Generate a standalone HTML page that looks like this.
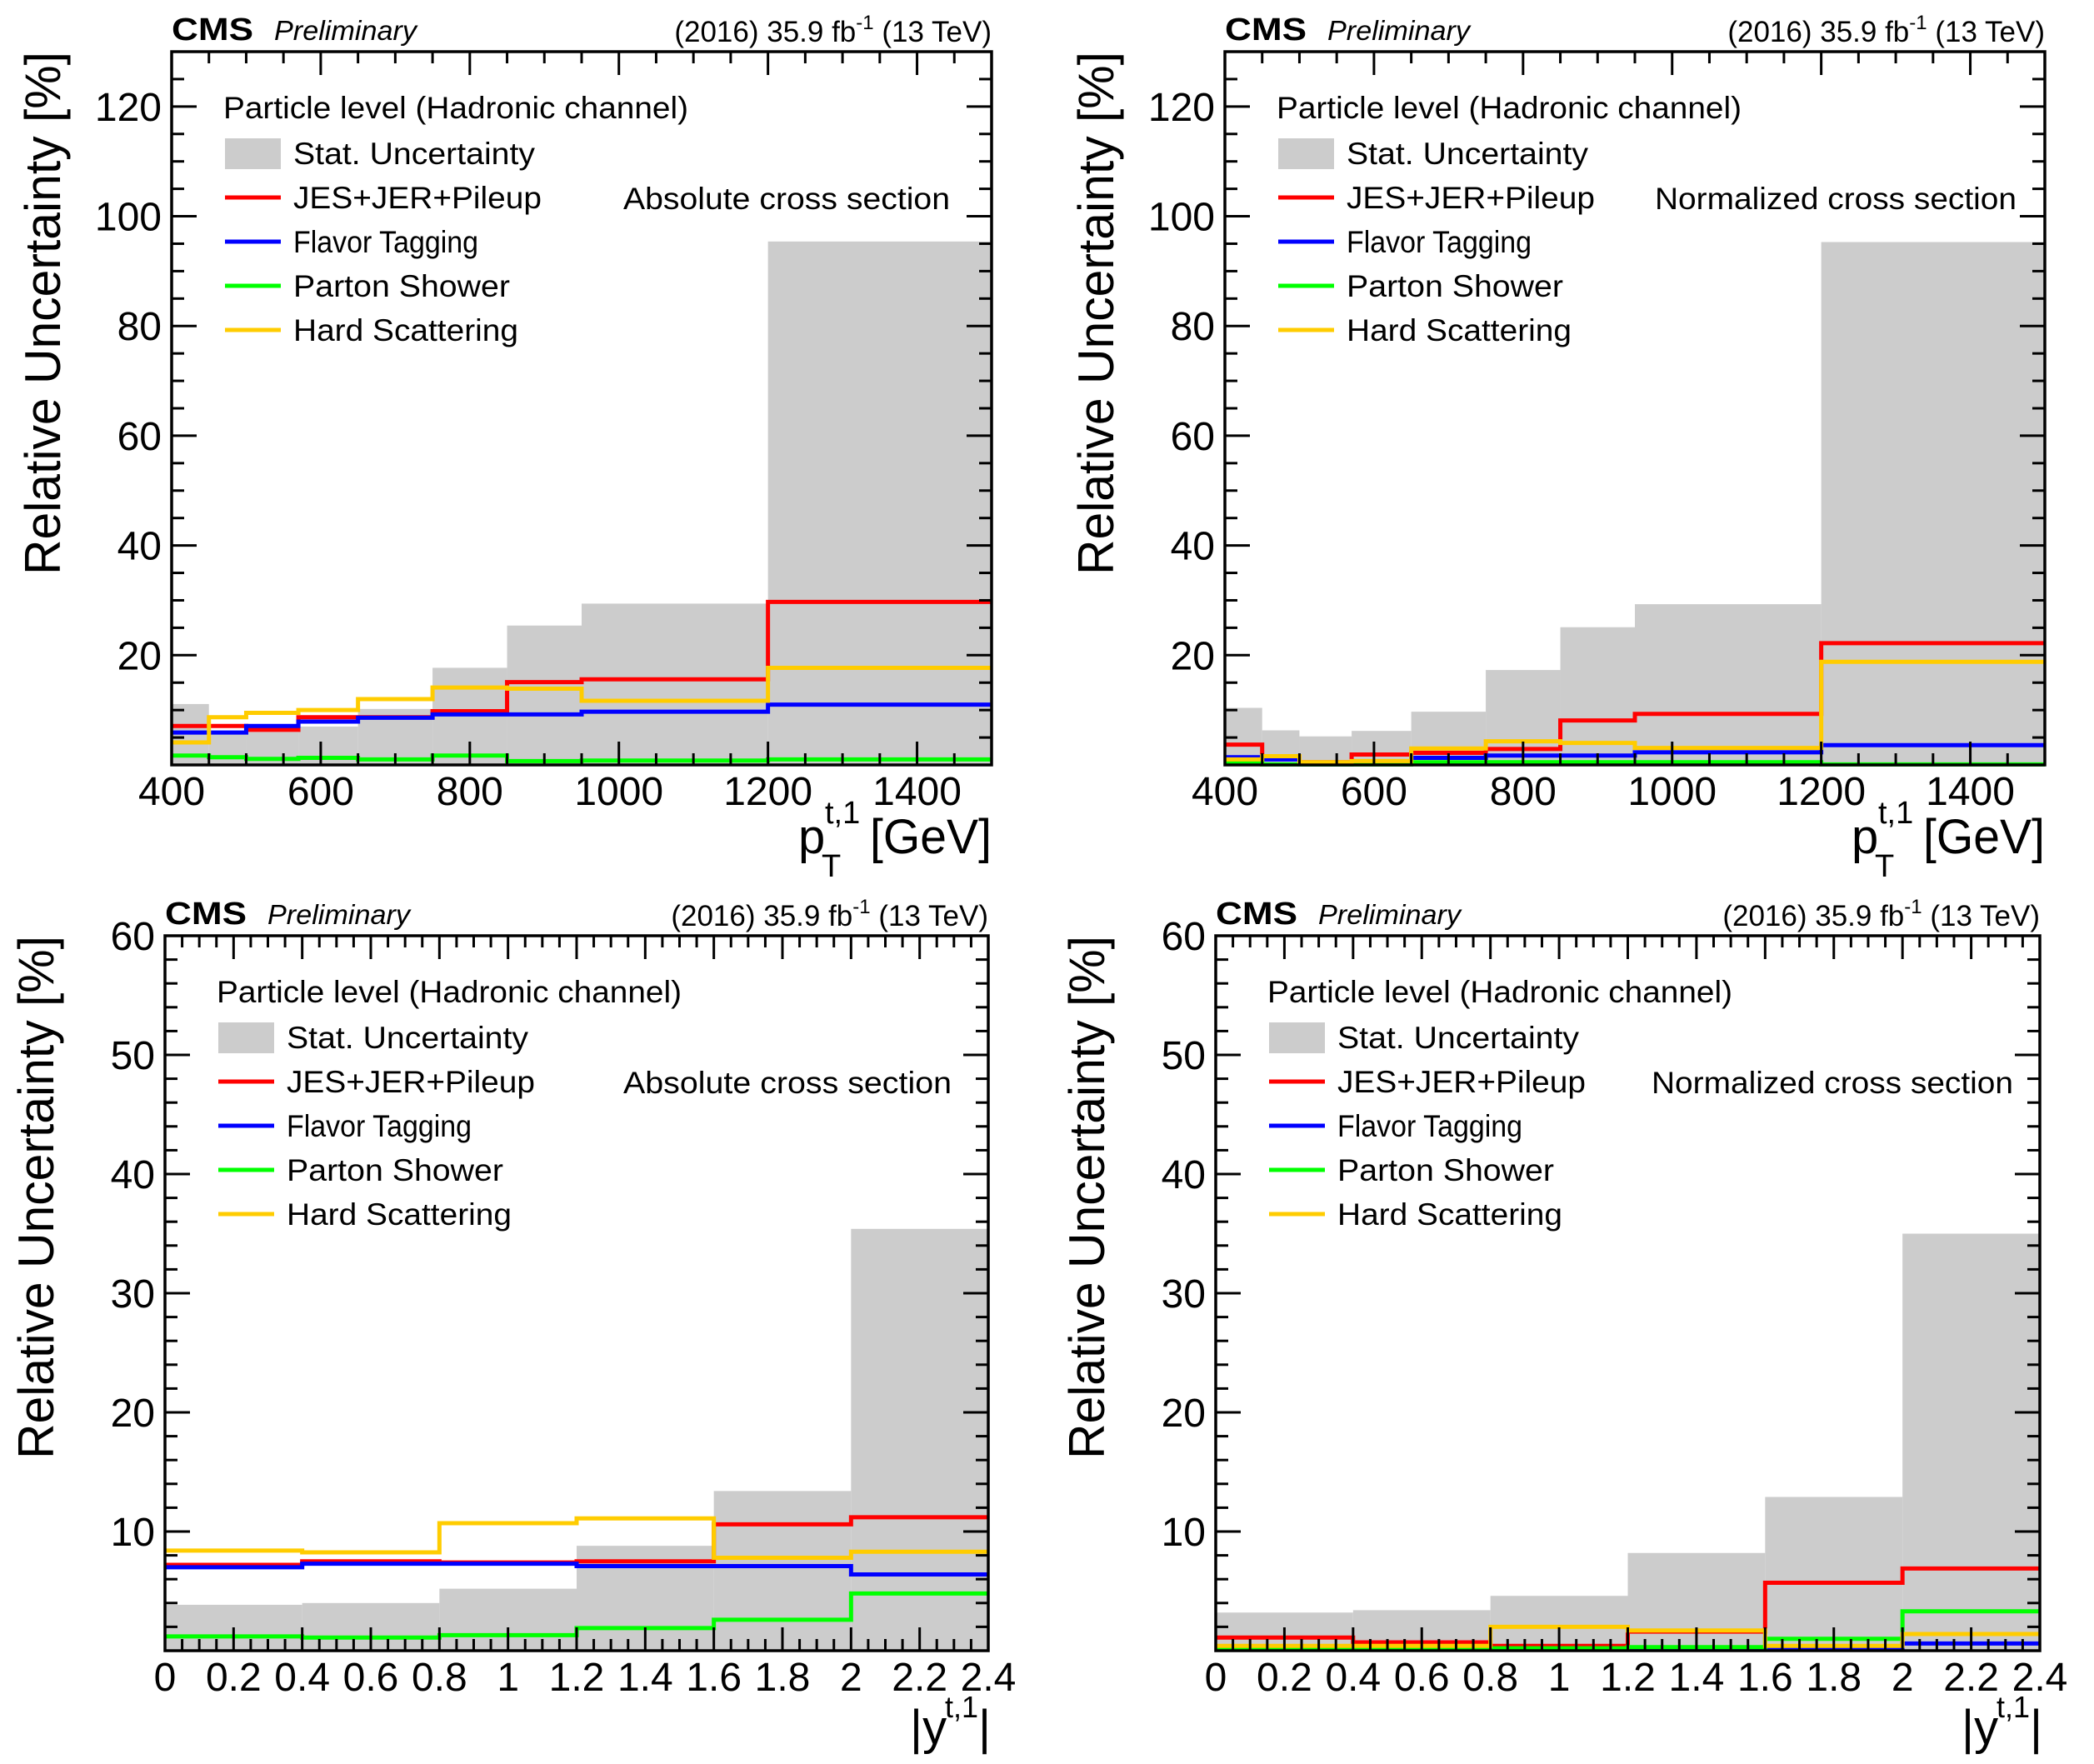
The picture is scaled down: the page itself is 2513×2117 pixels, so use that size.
<!DOCTYPE html>
<html><head><meta charset="utf-8"><style>
html,body{margin:0;padding:0;background:#fff;}
svg{display:block;font-family:"Liberation Sans",Arial,sans-serif;}
</style></head><body>
<svg id="fig" xmlns="http://www.w3.org/2000/svg" width="2513" height="2117" viewBox="0 0 2513 2117"></svg>
<script>
// ---- data ----
const ptEdges = [400, 450, 500, 570, 650, 750, 850, 950, 1200, 1500];
const absPtStat = [11.1, 6.0, 6.0, 7.0, 10.2, 17.7, 25.4, 29.4, 95.4];
const absPtJes = [7.1, 7.1, 6.4, 8.7, 8.7, 9.8, 15.1, 15.6, 29.7];
const absPtFlav = [5.9, 5.9, 7.1, 7.9, 8.6, 9.2, 9.2, 9.7, 11.0];
const absPtPs = [1.7, 1.4, 1.1, 1.3, 1.0, 1.7, 0.7, 0.8, 1.0];
const absPtHard = [4.1, 8.7, 9.5, 10.0, 12.0, 14.1, 13.9, 11.7, 17.7];

const normPtStat = [10.4, 6.3, 5.2, 6.2, 9.7, 17.3, 25.1, 29.3, 95.3];
const normPtJes = [3.7, 1.5, 0.5, 1.9, 2.2, 2.9, 8.1, 9.3, 22.2];
const normPtFlav = [1.4, 1.0, 0.1, 0.5, 1.3, 1.7, 1.7, 2.3, 3.6];
const normPtPs = [0.4, 0.1, 0.1, 0.1, 0.5, 0.5, 0.5, 0.5, 0.1];
const normPtHard = [1.0, 1.6, 0.5, 0.7, 3.0, 4.3, 4.0, 3.1, 18.8];

const yEdges = [0, 0.4, 0.8, 1.2, 1.6, 2.0, 2.4];
const absYStat = [3.85, 4.0, 5.2, 8.8, 13.4, 35.4];
const absYJes = [7.2, 7.5, 7.4, 7.5, 10.6, 11.2];
const absYFlav = [7.0, 7.3, 7.3, 7.1, 7.1, 6.4];
const absYPs = [1.2, 1.1, 1.3, 1.9, 2.6, 4.8];
const absYHard = [8.4, 8.25, 10.7, 11.1, 7.8, 8.3];

const normYStat = [3.2, 3.4, 4.6, 8.2, 12.9, 35.0];
const normYJes = [1.1, 0.7, 0.4, 1.6, 5.7, 6.9];
const normYFlav = [0.1, 0.1, 0.1, 0.1, 0.1, 0.6];
const normYPs = [0.2, 0.2, 0.2, 0.3, 1.0, 3.3];
const normYHard = [0.4, 0.4, 2.0, 1.7, 0.4, 1.4];

const ptTickLabels = ["400", "600", "800", "1000", "1200", "1400"];
const yTickLabels = ["0", "0.2", "0.4", "0.6", "0.8", "1", "1.2", "1.4", "1.6", "1.8", "2", "2.2", "2.4"];
const legendLabels = ["Stat. Uncertainty", "JES+JER+Pileup", "Flavor Tagging", "Parton Shower", "Hard Scattering"];

const NS = "http://www.w3.org/2000/svg";
const svg = document.getElementById('fig');
const COLORS = {jes:"#ff0000", flav:"#0000ff", ps:"#00ff00", hard:"#ffcc00"};

function mk(tag, attrs, parent, txt){
  const e = document.createElementNS(NS, tag);
  for (const k in attrs) e.setAttribute(k, attrs[k]);
  if (txt !== undefined) e.textContent = txt;
  (parent || svg).appendChild(e);
  return e;
}

function panel(P){
  const g = mk('g', {});
  
  
  const W = P.R - P.L, H = P.B - P.T;
  const sx = v => P.L + (v - P.xmin) / (P.xmax - P.xmin) * W;
  const sy = v => P.B - (v - P.ymin) / (P.ymax - P.ymin) * H;

  for (let i = 0; i < P.stat.length; i++){
    const r = mk('rect', {x: sx(P.edges[i]), y: sy(P.stat[i]), width: sx(P.edges[i+1]) - sx(P.edges[i]), height: P.B - sy(P.stat[i]), fill: "#cccccc"}, g);
    
    
  }
  const series = [["jes", P.jes], ["flav", P.flav], ["ps", P.ps], ["hard", P.hard]];
  series.forEach(([k, vals]) => {
    let d = "M" + sx(P.edges[0]) + "," + sy(vals[0]);
    for (let i = 0; i < vals.length; i++){
      d += " H" + sx(P.edges[i+1]);
      if (i + 1 < vals.length) d += " V" + sy(vals[i+1]);
    }
    const p = mk('path', {d: d, fill: "none", stroke: COLORS[k], "stroke-width": 5}, g);
    
    
  });

  const tk = mk('g', {stroke: "#000", "stroke-width": 3}, g);
  
  
  const nMinX = Math.round((P.xmax - P.xmin) / P.xMinor);
  for (let i = 0; i <= nMinX; i++){
    const v = P.xmin + i * P.xMinor;
    const isMaj = Math.abs(((v - P.xmin) / P.xMajor) - Math.round((v - P.xmin) / P.xMajor)) < 1e-6;
    const len = isMaj ? 28 : 14;
    const x = sx(v);
    mk('line', {x1: x, x2: x, y1: P.B, y2: P.B - len}, tk);
    mk('line', {x1: x, x2: x, y1: P.T, y2: P.T + len}, tk);
  }
  const nMinY = Math.round((P.ymax - P.ymin) / P.yMinor);
  for (let i = 0; i <= nMinY; i++){
    const v = P.ymin + i * P.yMinor;
    const isMaj = Math.abs((v / P.yMajor) - Math.round(v / P.yMajor)) < 1e-6;
    const len = isMaj ? 30 : 15;
    const y = sy(v);
    mk('line', {x1: P.L, x2: P.L + len, y1: y, y2: y}, tk);
    mk('line', {x1: P.R, x2: P.R - len, y1: y, y2: y}, tk);
  }
  const fr = mk('rect', {x: P.L, y: P.T, width: W, height: H, fill: "none", stroke: "#000", "stroke-width": 3.5}, g);
  
  

  P.xLabels.forEach((s, i) => {
    const v = P.xLabelStart + i * P.xLabelStep;
    const t = mk('text', {x: sx(v), y: P.B + 48, "font-size": 48, "text-anchor": "middle"}, g, s);
    
    
  });
  for (let v = P.yLabelStart; v <= P.ymax + 1e-6; v += P.yMajor){
    const t = mk('text', {x: P.L - 12, y: sy(v) + 17, "font-size": 48, "text-anchor": "end"}, g, String(v));
    
    
  }

  const cms = mk('text', {x: P.L, y: P.T - 14, "font-size": 38, "font-weight": "bold", textLength: 98, lengthAdjust: "spacingAndGlyphs"}, g, "CMS");
  
  
  const pre = mk('text', {x: P.L + 123, y: P.T - 14, "font-size": 33, "font-style": "italic", textLength: 171, lengthAdjust: "spacingAndGlyphs"}, g, "Preliminary");
  
  
  const lum = mk('text', {x: P.R, y: P.T - 12, "font-size": 35, "text-anchor": "end"}, g);
  
  
  mk('tspan', {}, lum, "(2016) 35.9 fb");
  mk('tspan', {"font-size": 24, dy: -15}, lum, "-1");
  mk('tspan', {dy: 15}, lum, " (13 TeV)");

  const lg = mk('g', {}, g);
  
  
  const lh = mk('text', {x: P.L + 62, y: P.T + 80, "font-size": 37, textLength: 558, lengthAdjust: "spacingAndGlyphs"}, lg, "Particle level (Hadronic channel)");
  
  
  const centers = [122, 175, 228, 281, 334];
  const widths = [290, 298, 222, 260, 270];
  const keys = ["stat", "jes", "flav", "ps", "hard"];
  legendLabels.forEach((s, i) => {
    const cy = P.T + centers[i];
    if (i === 0){
      const b = mk('rect', {x: P.L + 64, y: cy - 18, width: 67, height: 37, fill: "#cccccc"}, lg);
      
      
    } else {
      const l = mk('line', {x1: P.L + 64, x2: P.L + 131, y1: cy, y2: cy, stroke: COLORS[keys[i]], "stroke-width": 5}, lg);
      
      
    }
    const t = mk('text', {x: P.L + 146, y: cy + 13, "font-size": 37, textLength: widths[i], lengthAdjust: "spacingAndGlyphs"}, lg, s);
    
    
  });
  const cs = mk('text', {x: P.R - P.csRight - P.csWidth, y: P.T + 189, "font-size": 37, textLength: P.csWidth, lengthAdjust: "spacingAndGlyphs"}, g, P.csText);
  
  

  const yt = mk('text', {x: 0, y: 0, "font-size": 60, "text-anchor": "end", textLength: 628, lengthAdjust: "spacingAndGlyphs",
    transform: "translate(" + (P.L - 134) + "," + P.T + ") rotate(-90)"}, g, "Relative Uncertainty [%]");
  
  

  const xg = mk('g', {"font-size": 58}, g);
  
  
  if (P.kind === "pt"){
    mk('text', {x: P.R - 232, y: P.B + 106}, xg, "p");
    mk('text', {x: P.R - 200, y: P.B + 70, "font-size": 38}, xg, "t,1");
    mk('text', {x: P.R - 204, y: P.B + 134, "font-size": 38}, xg, "T");
    mk('text', {x: P.R - 146, y: P.B + 106, textLength: 146, lengthAdjust: "spacingAndGlyphs"}, xg, "[GeV]");
  } else {
    mk('text', {x: P.R - 94, y: P.B + 112}, xg, "|y");
    mk('text', {x: P.R - 52, y: P.B + 80, "font-size": 36}, xg, "t,1");
    mk('text', {x: P.R - 12, y: P.B + 112}, xg, "|");
  }
}

panel({name:"panel-abs-pt", kind:"pt", L:206, R:1190, T:62, B:918, xmin:400, xmax:1500, ymin:0, ymax:130,
  xMajor:200, xMinor:50, yMajor:20, yMinor:5, yLabelStart:20, edges:ptEdges,
  stat:absPtStat, jes:absPtJes, flav:absPtFlav, ps:absPtPs, hard:absPtHard,
  xLabels:ptTickLabels, xLabelStart:400, xLabelStep:200, csText:"Absolute cross section", csWidth:392, csRight:50});
panel({name:"panel-norm-pt", kind:"pt", L:1470, R:2454, T:62, B:918, xmin:400, xmax:1500, ymin:0, ymax:130,
  xMajor:200, xMinor:50, yMajor:20, yMinor:5, yLabelStart:20, edges:ptEdges,
  stat:normPtStat, jes:normPtJes, flav:normPtFlav, ps:normPtPs, hard:normPtHard,
  xLabels:ptTickLabels, xLabelStart:400, xLabelStep:200, csText:"Normalized cross section", csWidth:434, csRight:34});
panel({name:"panel-abs-y", kind:"y", L:198, R:1186, T:1123, B:1981, xmin:0, xmax:2.4, ymin:0, ymax:60,
  xMajor:0.2, xMinor:0.05, yMajor:10, yMinor:2, yLabelStart:10, edges:yEdges,
  stat:absYStat, jes:absYJes, flav:absYFlav, ps:absYPs, hard:absYHard,
  xLabels:yTickLabels, xLabelStart:0, xLabelStep:0.2, csText:"Absolute cross section", csWidth:394, csRight:44});
panel({name:"panel-norm-y", kind:"y", L:1459, R:2448, T:1123, B:1981, xmin:0, xmax:2.4, ymin:0, ymax:60,
  xMajor:0.2, xMinor:0.05, yMajor:10, yMinor:2, yLabelStart:10, edges:yEdges,
  stat:normYStat, jes:normYJes, flav:normYFlav, ps:normYPs, hard:normYHard,
  xLabels:yTickLabels, xLabelStart:0, xLabelStep:0.2, csText:"Normalized cross section", csWidth:434, csRight:32});
</script>
</body></html>
